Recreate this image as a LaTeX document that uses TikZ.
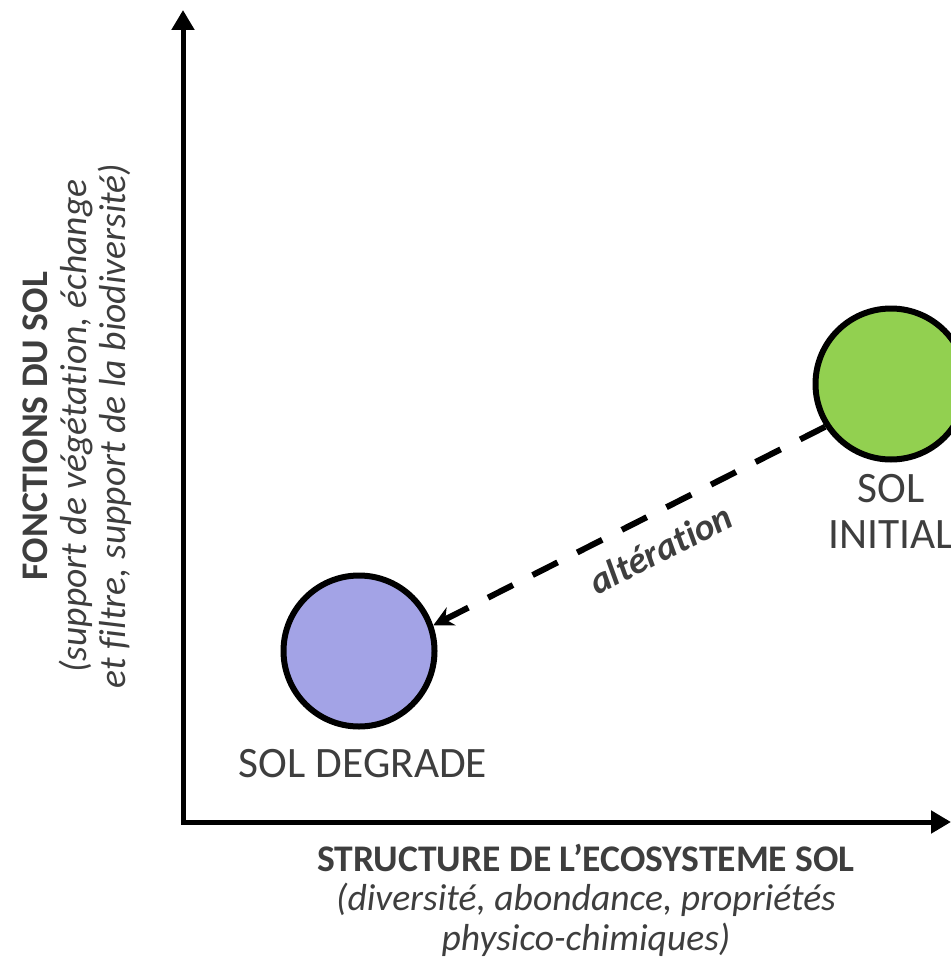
\documentclass[tikz,border=0pt]{standalone}
\usepackage{fontspec}
\setmainfont{Carlito}[Ligatures=NoCommon]
\usetikzlibrary{arrows.meta}
\definecolor{solgris}{RGB}{62,62,62}
\definecolor{solvert}{RGB}{146,208,80}
\definecolor{solbleu}{RGB}{163,163,230}
\begin{document}
\begin{tikzpicture}[x=0.5pt,y=0.5pt,line join=miter,
	axe/.style={line width=2.5pt,{Triangle[length=10pt,width=11pt]}-{Triangle[length=10pt,width=11pt]}},
	sol/.style={circle,draw,line width=3pt,minimum size=75.5pt,inner sep=0pt},
	titre/.style={text=solgris,inner sep=0pt,align=center,font=\fontsize{18.8}{19.6}\selectfont},
	etat/.style={text=solgris,inner sep=0pt,align=center,font=\fontsize{21.7}{23}\selectfont}]
	\useasboundingbox (0,0) rectangle (951,-957);
	\clip (0,0) rectangle (951,-957);
	\coordinate (O) at (183,-822);
	\coordinate (ytop) at (183,-10);
	\coordinate (xend) at (951,-822);
	\draw[axe] (ytop)--(O)--(xend);
	\node[sol,fill=solbleu] (degrade) at (359,-651) {};
	\node[sol,fill=solvert] (initial) at (891,-384) {};
	\node[etat,anchor=base] (ldegrade) at (363,-777) {SOL DEGRADE};
	\node[etat,anchor=north] (linitial) at (891,-474) {SOL\\INITIAL};
	\draw[line width=3pt,dash pattern=on 14pt off 11pt,-{Stealth[length=10pt,width=10pt]}] (initial.213)--(degrade.19)
		node[pos=0.46,sloped,below=9pt,inner sep=0pt,text=solgris,font=\fontsize{18.8}{20}\selectfont\bfseries\itshape] (lalter) {altération};
	\node[titre,anchor=north] (lstructure) at (586,-844) {\textbf{STRUCTURE DE L’ECOSYSTEME SOL}\\\textit{(diversité, abondance, propriétés}\\\textit{physico-chimiques)}};
	\node[titre,anchor=north,rotate=90] (lfonctions) at (22,-426) {\textbf{FONCTIONS DU SOL}\\\textit{(support de végétation, échange}\\\textit{et filtre, support de la biodiversité)}};
\end{tikzpicture}
\end{document}
